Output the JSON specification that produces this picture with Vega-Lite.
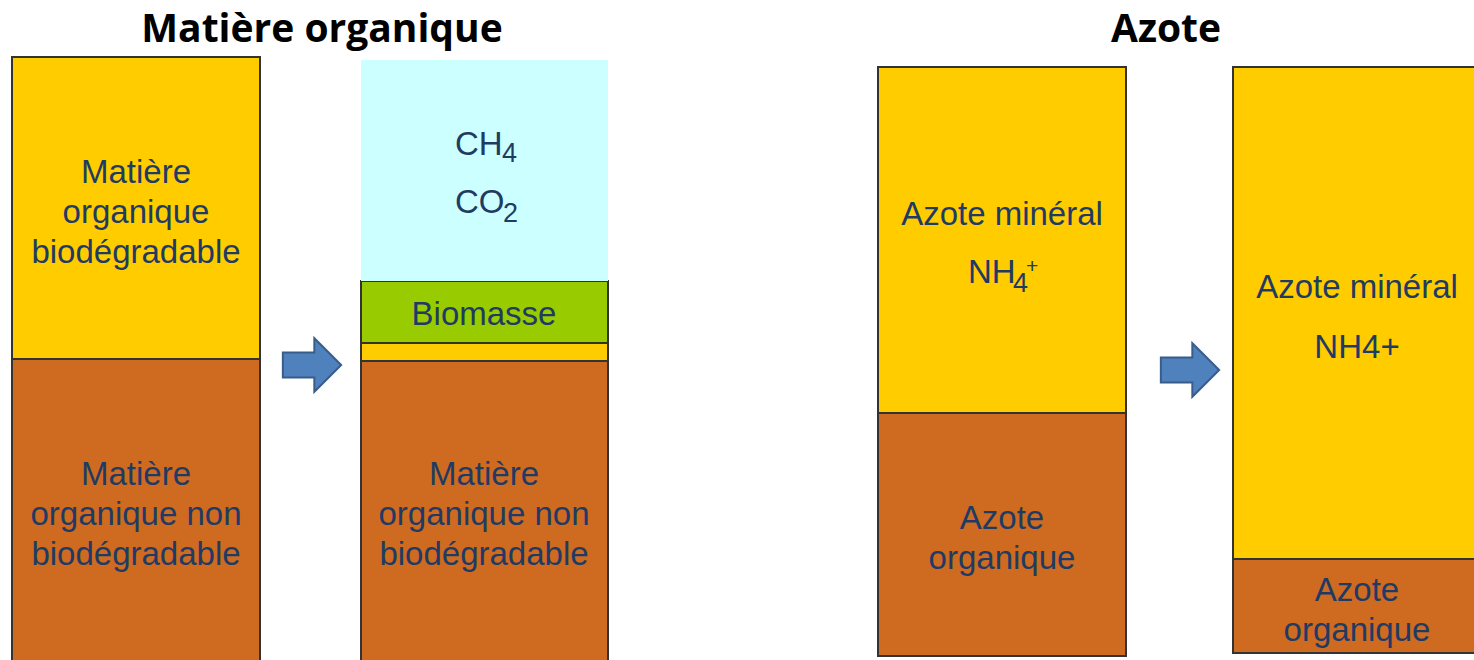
{
  "$schema": "https://vega.github.io/schema/vega-lite/v6.json",
  "width": 1474,
  "height": 660,
  "autosize": {"type": "fit", "contains": "padding"},
  "padding": 0,
  "background": "white",
  "config": {"view": {"stroke": null}},
  "datasets": {
    "blocks": [
      {"bar": "A", "part": "Matière organique biodégradable", "x0": 12, "x1": 260, "v0": 301, "v1": 603},
      {"bar": "A", "part": "Matière organique non biodégradable", "x0": 12, "x1": 260, "v0": -5, "v1": 301},
      {"bar": "B", "part": "Matière organique non biodégradable", "x0": 361, "x1": 608, "v0": -5, "v1": 299},
      {"bar": "B", "part": "Résidu biodégradable", "x0": 361, "x1": 608, "v0": 299, "v1": 317},
      {"bar": "B", "part": "Biomasse", "x0": 361, "x1": 608, "v0": 317, "v1": 379},
      {"bar": "B", "part": "CH4 CO2", "x0": 361, "x1": 608, "v0": 379, "v1": 600},
      {"bar": "C", "part": "Azote organique", "x0": 878, "x1": 1126, "v0": 4, "v1": 247},
      {"bar": "C", "part": "Azote minéral", "x0": 878, "x1": 1126, "v0": 247, "v1": 593},
      {"bar": "D", "part": "Azote organique", "x0": 1233, "x1": 1490, "v0": 7, "v1": 101},
      {"bar": "D", "part": "Azote minéral", "x0": 1233, "x1": 1490, "v0": 101, "v1": 593}
    ],
    "labels": [
      {"x": 136, "v": 487, "label": "Matière"},
      {"x": 136, "v": 447, "label": "organique"},
      {"x": 136, "v": 407, "label": "biodégradable"},
      {"x": 136, "v": 185, "label": "Matière"},
      {"x": 136, "v": 145, "label": "organique non"},
      {"x": 136, "v": 105, "label": "biodégradable"},
      {"x": 484, "v": 345, "label": "Biomasse"},
      {"x": 484, "v": 185, "label": "Matière"},
      {"x": 484, "v": 145, "label": "organique non"},
      {"x": 484, "v": 105, "label": "biodégradable"},
      {"x": 1002, "v": 445, "label": "Azote minéral"},
      {"x": 1002, "v": 141, "label": "Azote"},
      {"x": 1002, "v": 101, "label": "organique"},
      {"x": 1357, "v": 372, "label": "Azote minéral"},
      {"x": 1357, "v": 312, "label": "NH4+"},
      {"x": 1357, "v": 69, "label": "Azote"},
      {"x": 1357, "v": 29, "label": "organique"}
    ],
    "formulas": [
      {"x": 455, "v": 505, "piece": "CH", "role": "symbole"},
      {"x": 502, "v": 498, "piece": "4", "role": "indice"},
      {"x": 455, "v": 447, "piece": "CO", "role": "symbole"},
      {"x": 503, "v": 438, "piece": "2", "role": "indice"},
      {"x": 968, "v": 377, "piece": "NH", "role": "symbole"},
      {"x": 1013, "v": 368, "piece": "4", "role": "indice"},
      {"x": 1026, "v": 387, "piece": "+", "role": "exposant"}
    ],
    "titles": [
      {"x": 322, "v": 618, "title": "Matière organique"},
      {"x": 1166, "v": 618, "title": "Azote"}
    ],
    "arrows": [
      {"x": 312, "v": 295, "step": "transformation MO"},
      {"x": 1190, "v": 290, "step": "transformation N"}
    ]
  },
  "layer": [
    {
      "data": {"name": "blocks"},
      "mark": {"type": "rect", "stroke": "#333333", "strokeWidth": 2, "clip": true},
      "encoding": {
        "x": {"field": "x0", "type": "quantitative", "scale": {"domain": [0, 1474], "nice": false, "zero": false}, "axis": null},
        "x2": {"field": "x1"},
        "y": {"field": "v0", "type": "quantitative", "scale": {"domain": [0, 660], "nice": false, "zero": false}, "axis": null},
        "y2": {"field": "v1"},
        "color": {
          "field": "part", "type": "nominal", "legend": null,
          "scale": {
            "domain": ["Matière organique biodégradable", "Matière organique non biodégradable", "Résidu biodégradable", "Biomasse", "CH4 CO2", "Azote organique", "Azote minéral"],
            "range": ["#FFCC00", "#CF6A21", "#FFCC00", "#99CC00", "#CCFFFF", "#CF6A21", "#FFCC00"]
          }
        },
        "strokeOpacity": {"condition": {"test": "datum.part === 'CH4 CO2'", "value": 0}, "value": 1}
      }
    },
    {
      "data": {"name": "arrows"},
      "mark": {
        "type": "point", "filled": true, "fill": "#4F81BD", "stroke": "#385D8A", "strokeWidth": 2, "opacity": 1, "size": 3400,
        "shape": "M -1 -0.43 L 0.08 -0.43 L 0.08 -0.92 L 1 0 L 0.08 0.92 L 0.08 0.43 L -1 0.43 Z"
      },
      "encoding": {
        "x": {"field": "x", "type": "quantitative"},
        "y": {"field": "v", "type": "quantitative"}
      }
    },
    {
      "data": {"name": "labels"},
      "mark": {"type": "text", "font": "Liberation Sans", "fontSize": 33, "color": "#1F3B63", "align": "center", "baseline": "middle"},
      "encoding": {
        "x": {"field": "x", "type": "quantitative"},
        "y": {"field": "v", "type": "quantitative"},
        "text": {"field": "label"}
      }
    },
    {
      "data": {"name": "formulas"},
      "mark": {"type": "text", "font": "Liberation Sans", "color": "#1F3B63", "align": "left", "baseline": "alphabetic"},
      "encoding": {
        "x": {"field": "x", "type": "quantitative"},
        "y": {"field": "v", "type": "quantitative"},
        "text": {"field": "piece"},
        "size": {"field": "role", "type": "nominal", "legend": null, "scale": {"domain": ["symbole", "indice", "exposant"], "range": [33, 21, 21]}}
      }
    },
    {
      "data": {"name": "titles"},
      "mark": {"type": "text", "font": "Open Sans", "fontWeight": "bold", "fontSize": 39, "color": "#000000", "align": "center", "baseline": "alphabetic"},
      "encoding": {
        "x": {"field": "x", "type": "quantitative"},
        "y": {"field": "v", "type": "quantitative"},
        "text": {"field": "title"}
      }
    }
  ]
}
